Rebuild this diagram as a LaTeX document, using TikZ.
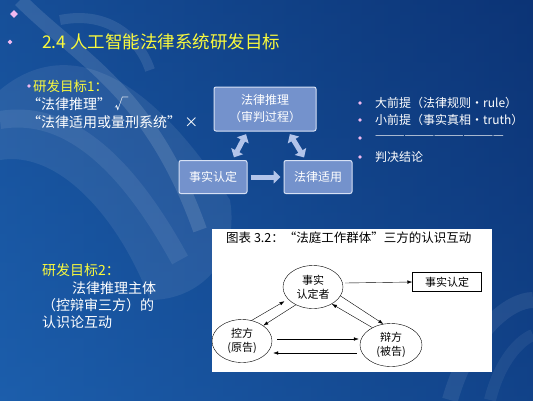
\documentclass[tikz,border=0pt]{standalone}
\usepackage{fontspec}
\setmainfont{Noto Sans CJK SC}
\usetikzlibrary{arrows.meta,positioning,shapes.geometric}

\definecolor{bgdark}{RGB}{12,52,118}
\definecolor{bgmid}{RGB}{28,94,172}
\definecolor{titleyel}{RGB}{250,250,60}
\definecolor{dotpink}{RGB}{240,185,240}
\definecolor{boxblue}{RGB}{116,146,204}
\definecolor{boxline}{RGB}{215,225,245}
\definecolor{arrblue}{RGB}{178,196,234}

\tikzset{
  dot/.style={diamond, fill=dotpink, inner sep=0pt, minimum size=5pt},
  slidetext/.style={anchor=west, inner sep=0pt, text=white, font=\fontsize{14}{16}\selectfont},
  goaltext/.style={slidetext, text=titleyel},
  listtext/.style={slidetext, font=\fontsize{12}{14}\selectfont},
  stagebox/.style={draw=boxline, line width=1pt, fill=boxblue, rounded corners=2pt,
                   text=white, align=center, inner sep=0pt, font=\fontsize{12}{17}\selectfont},
  blockarrow/.style={arrblue, line width=5pt, shorten <=3pt, shorten >=3pt},
  party/.style={ellipse, draw, thin, inner sep=0pt, align=center,
                minimum width=60pt, minimum height=43pt, font=\fontsize{11}{14}\selectfont},
  farrow/.style={-{Latex[length=5pt,width=3.5pt]}, thin},
}

\begin{document}
\begin{tikzpicture}[x=1pt,y=-1pt]
        \useasboundingbox (0,0) rectangle (533,400);
        % background
        \shade[left color=bgmid, right color=bgdark] (0,0) rectangle (533,400);
        \shade[top color=bgdark, bottom color=bgmid, opacity=0.35] (0,0) rectangle (533,400);
        \fill[white, opacity=0.08] (0,90) .. controls (60,40) and (140,60) .. (230,200)
            .. controls (240,260) and (200,300) .. (150,300) .. controls (120,220) and (60,150) .. (0,160) -- cycle;
        \draw[white, opacity=0.12, line width=14pt] (20,0) .. controls (80,60) and (150,90) .. (200,230);
        \draw[white, opacity=0.10, line width=10pt] (60,20) .. controls (110,10) and (140,40) .. (150,70);
        \draw[white, opacity=0.08, line width=18pt] (0,120) .. controls (60,110) and (120,150) .. (180,260);
        \draw[white, opacity=0.08, line width=16pt] (450,400) .. controls (470,330) and (510,300) .. (533,300);
        \draw[white, opacity=0.06, line width=12pt] (490,400) .. controls (500,360) and (520,340) .. (533,335);

        % title
        \node[dot, minimum size=8pt] (d0) at (14,14) {};
        \node[dot] (d1) at (10,42) {};
        \node[goaltext, font=\fontsize{17.5}{20}\selectfont] (title) at (42,42) {2.4\ 人工智能法律系统研发目标};

        % goal 1
        \node[dot, minimum size=4pt] (d2) at (29,86) {};
        \node[goaltext, font=\fontsize{13.5}{16}\selectfont] (goal1) at (33,86) {研发目标1：};
        \node[slidetext] (g1a) at (27,104) {“法律推理” √};
        \node[slidetext] (g1b) at (27,122) {“法律适用或量刑系统” ×};

        % reasoning boxes
        \node[stagebox, minimum width=102pt, minimum height=44pt] (reason) at (265,109) {法律推理\\（审判过程）};
        \node[stagebox, minimum width=68pt, minimum height=33pt] (fact) at (213,177) {事实认定};
        \node[stagebox, minimum width=68pt, minimum height=33pt] (apply) at (318,177) {法律适用};
        \draw[blockarrow, {Triangle[width=13pt,length=7pt]}-{Triangle[width=13pt,length=7pt]}] (reason.232) -- (fact.41);
        \draw[blockarrow, {Triangle[width=13pt,length=7pt]}-{Triangle[width=13pt,length=7pt]}] (reason.316) -- (apply.126);
        \draw[blockarrow, -{Triangle[width=13pt,length=7pt]}] (fact.east) -- (apply.west);

        % syllogism list
        \node[dot, minimum size=4pt] (d3) at (360,103) {};
        \node[dot, minimum size=4pt] (d4) at (360,120) {};
        \node[dot, minimum size=4pt] (d5) at (360,138) {};
        \node[dot, minimum size=4pt] (d6) at (360,157) {};
        \node[listtext] (major) at (375,103) {大前提（法律规则·rule）};
        \node[listtext] (minor) at (375,120) {小前提（事实真相·truth）};
        \node[listtext, text=white!85!bgdark] (sep) at (375,138) {—————————————};
        \node[listtext] (verdict) at (375,157) {判决结论};

        % goal 2
        \node[goaltext] (goal2) at (42,270) {研发目标2：};
        \node[slidetext] (g2a) at (72,288) {法律推理主体};
        \node[slidetext] (g2b) at (42,305) {（控辩审三方）的};
        \node[slidetext] (g2c) at (42,322) {认识论互动};

        % courtroom figure
        \node[fill=white, anchor=north west, minimum width=280pt, minimum height=143pt, inner sep=0pt] (panel) at (212,229) {};
        \node[anchor=west, inner sep=0pt, font=\fontsize{12.5}{14}\selectfont] (figtitle) at (226,238) {图表 3.2：“法庭工作群体”三方的认识互动};
        \node[party] (judge) at (313,287) {事实\\认定者};
        \node[party] (pros) at (242,341) {控方\\(原告)};
        \node[party, minimum width=62pt] (def) at (391,345) {辩方\\(被告)};
        \node[draw, thin, minimum width=69pt, minimum height=19pt, font=\fontsize{11}{13}\selectfont] (factbox) at (447,282) {事实认定};
        \draw[farrow] ([xshift=2pt,yshift=4pt]judge.east) -- (factbox.west);
        \draw[farrow, shorten >=4pt] (pros.65) -- (judge.206);
        \draw[farrow] (judge.226) -- (pros.36);
        \draw[farrow] (judge.342) -- (def.110);
        \draw[farrow] (def.137) -- (judge.318);
        \draw[farrow] ([xshift=5pt,yshift=2pt]pros.east) -- ([xshift=-1pt,yshift=6pt]def.west);
        \draw[farrow] ([xshift=-3pt,yshift=-8pt]def.west) -- ([xshift=1pt,yshift=-12pt]pros.east);
    \end{tikzpicture}
\end{document}
